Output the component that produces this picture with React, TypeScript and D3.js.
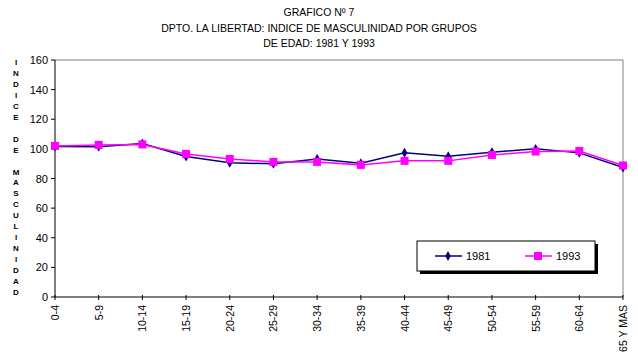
import React from "react";
import * as d3 from "d3";

const categories = ["0-4","5-9","10-14","15-19","20-24","25-29","30-34","35-39","40-44","45-49","50-54","55-59","60-64","65 Y MAS"];
const s1981 = [101.6,101.5,103.6,94.8,90.6,89.9,93.2,90.3,97.4,95.0,97.7,100.0,97.3,87.4];
const s1993 = [102.0,102.7,103.0,96.6,93.2,91.2,91.2,89.2,91.9,91.9,95.9,98.2,98.6,88.8];
const yTicks = [0,20,40,60,80,100,120,140,160];
const titleLines = ["GRAFICO Nº 7","DPTO. LA LIBERTAD: INDICE DE MASCULINIDAD POR GRUPOS","DE EDAD: 1981 Y 1993"];
const yTitle = "INDICE DE MASCULINIDAD";
const seriesNames = ["1981","1993"];

export default function App() {
  const W = 638, H = 360;
  const left = 55, right = 623, top = 60, bottom = 297;
  const x = d3.scalePoint<string>().domain(categories).range([left, right]);
  const y = d3.scaleLinear().domain([0, 160]).range([bottom, top]);
  const line = d3.line<number>().x((_, i) => x(categories[i])!).y(d => y(d));
  const font = "Arial, 'Liberation Sans', sans-serif";
  const letters = yTitle.split("");
  const letterStep = (292 - 62) / (letters.length - 1);
  const diamond = d3.symbol().type(d3.symbolDiamond).size(28)();
  return (
    <svg width={W} height={H} style={{ position: "absolute", left: 0, top: 0, background: "#fff" }} fontFamily={font}>
      <rect x={0} y={0} width={W} height={H} fill="#fff" />
      {titleLines.map((t, i) => (
        <text key={i} x={319} y={16 + i * 15.5} fontSize={10.5} textAnchor="middle" fill="#000">{t}</text>
      ))}
      {letters.map((c, i) => (
        <text key={i} x={16} y={62 + i * letterStep + 3} fontSize={8} fontWeight="bold" textAnchor="middle" fill="#000">{c}</text>
      ))}
      <line x1={left} x2={right} y1={top} y2={top} stroke="#808080" />
      <line x1={right} x2={right} y1={top} y2={bottom} stroke="#808080" />
      <line x1={left} x2={left} y1={top} y2={bottom} stroke="#000" />
      {yTicks.map(t => (
        <g key={t}>
          <line x1={left - 4} x2={left} y1={y(t)} y2={y(t)} stroke="#000" />
          <text x={left - 7} y={y(t) + 4} fontSize={11} textAnchor="end" fill="#000">{t}</text>
        </g>
      ))}
      <line x1={left} x2={right} y1={bottom} y2={bottom} stroke="#000" />
      {categories.map(c => (
        <g key={c}>
          <line x1={x(c)!} x2={x(c)!} y1={bottom - 2} y2={bottom + 3} stroke="#000" />
          <text transform={`translate(${x(c)! + 4},${bottom + 8}) rotate(-90)`} fontSize={10.5} textAnchor="end" fill="#000">{c}</text>
        </g>
      ))}
      <path d={line(s1981)!} fill="none" stroke="#000080" strokeWidth={1.5} />
      <path d={line(s1993)!} fill="none" stroke="#FF00FF" strokeWidth={1.5} />
      {s1981.map((v, i) => (
        <path key={i} d={diamond} transform={`translate(${x(categories[i])},${y(v)})`} fill="#000080" />
      ))}
      {s1993.map((v, i) => (
        <rect key={i} x={x(categories[i])! - 4} y={y(v) - 4} width={8} height={8} fill="#FF00FF" />
      ))}
      <rect x={420} y={244} width={178} height={30} fill="#000" />
      <rect x={417} y={241} width={178} height={30} fill="#fff" stroke="#000" />
      <line x1={435} x2={462} y1={256} y2={256} stroke="#000080" strokeWidth={1.5} />
      <path d={diamond} transform="translate(448,256)" fill="#000080" />
      <text x={466} y={260} fontSize={11} fill="#000">{seriesNames[0]}</text>
      <line x1={525} x2={552} y1={256} y2={256} stroke="#FF00FF" strokeWidth={1.5} />
      <rect x={534} y={252} width={8} height={8} fill="#FF00FF" />
      <text x={556} y={260} fontSize={11} fill="#000">{seriesNames[1]}</text>
    </svg>
  );
}
